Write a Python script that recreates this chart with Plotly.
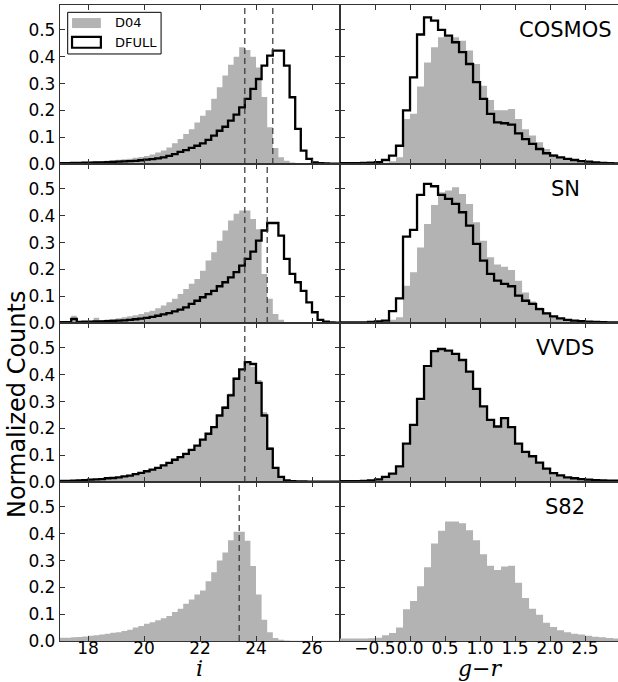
import plotly.graph_objects as go
from plotly.subplots import make_subplots

# ---------------- data ----------------
fields = ["COSMOS", "SN", "VVDS", "S82"]

i_edge_start = 17.0
i_bin_width = 0.2
gr_edge_start = -1.0
gr_bin_width = 0.1

# i-band histograms (50 bins, 17.0 -> 27.0)
cosmos_i_d04 = [0.004, 0.005, 0.006, 0.007, 0.008, 0.009, 0.010, 0.011, 0.012, 0.014,
                0.016, 0.018, 0.020, 0.023, 0.026, 0.030, 0.035, 0.043, 0.050, 0.062,
                0.077, 0.093, 0.112, 0.130, 0.155, 0.180, 0.200, 0.243, 0.286, 0.330,
                0.370, 0.400, 0.435, 0.425, 0.400, 0.360, 0.250, 0.137, 0.060, 0.025,
                0.012, 0.006, 0.004, 0.003, 0.002, 0.001, 0.001, 0.001, 0.001, 0.001]
cosmos_i_full = [0.003, 0.003, 0.004, 0.004, 0.005, 0.005, 0.006, 0.006, 0.007, 0.008,
                 0.009, 0.010, 0.011, 0.012, 0.014, 0.016, 0.018, 0.021, 0.025, 0.030,
                 0.037, 0.045, 0.052, 0.060, 0.068, 0.077, 0.090, 0.106, 0.124, 0.139,
                 0.162, 0.184, 0.211, 0.243, 0.280, 0.317, 0.367, 0.404, 0.423, 0.423,
                 0.367, 0.249, 0.131, 0.050, 0.019, 0.006, 0.003, 0.002, 0.001, 0.001]
sn_i_d04 = [0.006, 0.005, 0.027, 0.006, 0.007, 0.008, 0.020, 0.011, 0.013, 0.015,
            0.018, 0.021, 0.025, 0.029, 0.034, 0.040, 0.046, 0.055, 0.065, 0.077,
            0.090, 0.108, 0.127, 0.146, 0.164, 0.195, 0.233, 0.264, 0.307, 0.345,
            0.382, 0.407, 0.420, 0.420, 0.388, 0.350, 0.183, 0.090, 0.034, 0.012,
            0.004, 0.002, 0.001, 0.001, 0.001, 0.001, 0.001, 0.001, 0.001, 0.001]
sn_i_full = [0.003, 0.003, 0.015, 0.004, 0.005, 0.005, 0.006, 0.006, 0.007, 0.008,
             0.009, 0.010, 0.012, 0.014, 0.016, 0.019, 0.023, 0.027, 0.032, 0.037,
             0.043, 0.050, 0.058, 0.071, 0.083, 0.096, 0.108, 0.120, 0.137, 0.152,
             0.170, 0.190, 0.214, 0.239, 0.266, 0.307, 0.345, 0.373, 0.373, 0.326,
             0.239, 0.183, 0.152, 0.120, 0.077, 0.040, 0.012, 0.005, 0.002, 0.001]
vvds_i_d04 = [0.004, 0.004, 0.005, 0.006, 0.007, 0.009, 0.010, 0.011, 0.014, 0.015,
              0.017, 0.021, 0.024, 0.029, 0.034, 0.040, 0.046, 0.053, 0.062, 0.071,
              0.083, 0.093, 0.105, 0.120, 0.136, 0.158, 0.180, 0.205, 0.250, 0.283,
              0.330, 0.390, 0.420, 0.445, 0.430, 0.380, 0.260, 0.130, 0.055, 0.019,
              0.006, 0.003, 0.002, 0.001, 0.001, 0.001, 0.001, 0.001, 0.001, 0.001]
vvds_i_full = [0.004, 0.004, 0.005, 0.006, 0.007, 0.009, 0.010, 0.011, 0.014, 0.015,
               0.017, 0.021, 0.024, 0.029, 0.034, 0.040, 0.046, 0.053, 0.062, 0.071,
               0.083, 0.093, 0.105, 0.120, 0.136, 0.158, 0.180, 0.205, 0.248, 0.277,
               0.323, 0.385, 0.420, 0.447, 0.440, 0.370, 0.248, 0.124, 0.053, 0.019,
               0.006, 0.003, 0.002, 0.002, 0.001, 0.001, 0.001, 0.001, 0.001, 0.001]
s82_i_d04 = [0.012, 0.012, 0.014, 0.015, 0.017, 0.020, 0.021, 0.024, 0.027, 0.031,
             0.033, 0.037, 0.042, 0.050, 0.056, 0.064, 0.070, 0.077, 0.085, 0.093,
             0.108, 0.120, 0.139, 0.155, 0.173, 0.188, 0.223, 0.256, 0.300, 0.330,
             0.376, 0.407, 0.407, 0.374, 0.280, 0.173, 0.079, 0.033, 0.011, 0.005,
             0.002, 0.001, 0.001, 0.001, 0.001, 0.001, 0.001, 0.001, 0.001, 0.001]

# g-r histograms (40 bins, -1.0 -> 3.0)
cosmos_gr_d04 = [0.002, 0.002, 0.002, 0.003, 0.003, 0.004, 0.005, 0.010, 0.025, 0.168,
                 0.187, 0.289, 0.379, 0.435, 0.473, 0.475, 0.473, 0.460, 0.423, 0.373,
                 0.292, 0.239, 0.200, 0.200, 0.205, 0.168, 0.130, 0.106, 0.081, 0.056,
                 0.037, 0.027, 0.021, 0.016, 0.012, 0.009, 0.006, 0.005, 0.004, 0.003]
cosmos_gr_full = [0.003, 0.003, 0.003, 0.004, 0.005, 0.007, 0.015, 0.031, 0.068, 0.200,
                  0.323, 0.483, 0.547, 0.535, 0.500, 0.479, 0.454, 0.417, 0.373, 0.305,
                  0.243, 0.187, 0.155, 0.152, 0.147, 0.114, 0.093, 0.075, 0.056, 0.040,
                  0.031, 0.025, 0.019, 0.015, 0.011, 0.009, 0.006, 0.004, 0.003, 0.002]
sn_gr_d04 = [0.001, 0.001, 0.002, 0.002, 0.003, 0.004, 0.005, 0.012, 0.021, 0.139,
             0.189, 0.282, 0.369, 0.440, 0.488, 0.494, 0.506, 0.481, 0.444, 0.376,
             0.307, 0.245, 0.218, 0.210, 0.198, 0.158, 0.114, 0.080, 0.058, 0.040,
             0.027, 0.019, 0.014, 0.010, 0.008, 0.006, 0.005, 0.004, 0.003, 0.003]
sn_gr_full = [0.002, 0.002, 0.002, 0.002, 0.004, 0.006, 0.009, 0.044, 0.092, 0.322,
              0.347, 0.478, 0.519, 0.510, 0.478, 0.463, 0.444, 0.413, 0.363, 0.295,
              0.233, 0.183, 0.158, 0.146, 0.137, 0.102, 0.083, 0.071, 0.052, 0.036,
              0.025, 0.017, 0.012, 0.009, 0.007, 0.005, 0.004, 0.003, 0.002, 0.002]
vvds_gr_d04 = [0.003, 0.003, 0.003, 0.004, 0.006, 0.010, 0.018, 0.030, 0.055, 0.140,
               0.210, 0.305, 0.425, 0.485, 0.495, 0.487, 0.476, 0.452, 0.410, 0.345,
               0.280, 0.232, 0.208, 0.236, 0.203, 0.143, 0.112, 0.096, 0.072, 0.050,
               0.033, 0.025, 0.017, 0.014, 0.011, 0.009, 0.007, 0.006, 0.005, 0.005]
vvds_gr_full = [0.003, 0.003, 0.003, 0.004, 0.006, 0.010, 0.019, 0.031, 0.058, 0.143,
                0.213, 0.310, 0.432, 0.488, 0.496, 0.490, 0.478, 0.455, 0.412, 0.347,
                0.282, 0.232, 0.207, 0.238, 0.205, 0.143, 0.112, 0.096, 0.072, 0.050,
                0.033, 0.025, 0.017, 0.014, 0.011, 0.009, 0.007, 0.006, 0.005, 0.005]
s82_gr_d04 = [0.009, 0.009, 0.009, 0.009, 0.010, 0.012, 0.021, 0.030, 0.050, 0.118,
              0.149, 0.204, 0.275, 0.364, 0.411, 0.446, 0.446, 0.439, 0.413, 0.376,
              0.324, 0.281, 0.265, 0.278, 0.281, 0.217, 0.160, 0.120, 0.098, 0.068,
              0.052, 0.040, 0.033, 0.027, 0.024, 0.020, 0.016, 0.014, 0.011, 0.009]

i_d04 = [cosmos_i_d04, sn_i_d04, vvds_i_d04, s82_i_d04]
i_full = [cosmos_i_full, sn_i_full, vvds_i_full, None]
gr_d04 = [cosmos_gr_d04, sn_gr_d04, vvds_gr_d04, s82_gr_d04]
gr_full = [cosmos_gr_full, sn_gr_full, vvds_gr_full, None]

# dashed reference magnitudes per field
cut_lines = [[23.6, 24.6], [23.6, 24.4], [23.6], [23.4]]

i_ticks = [18, 20, 22, 24, 26]
gr_ticks = [-0.5, 0.0, 0.5, 1.0, 1.5, 2.0, 2.5]
y_ticks = [0.0, 0.1, 0.2, 0.3, 0.4, 0.5]

# ---------------- figure ----------------
GRAY = "#b3b3b3"
FRAME = "#333333"

fig = make_subplots(rows=4, cols=2, horizontal_spacing=0, vertical_spacing=0,
                    column_widths=[280, 278])


def edges(start, width, n):
    return [start + width * k for k in range(n + 1)]


def fill_trace(start, width, vals):
    e = edges(start, width, len(vals))
    return go.Scatter(x=e, y=list(vals) + [vals[-1]], mode="lines",
                      line=dict(shape="hv", width=0, color=GRAY),
                      fill="tozeroy", fillcolor=GRAY, showlegend=False,
                      hoverinfo="skip")


def step_trace(start, width, vals):
    e = edges(start, width, len(vals))
    xs = [e[0]] + e + [e[-1]]
    ys = [0] + list(vals) + [vals[-1], 0]
    return go.Scatter(x=xs, y=ys, mode="lines",
                      line=dict(shape="hv", width=2.3, color="black"),
                      showlegend=False, hoverinfo="skip")


for r in range(4):
    row = r + 1
    fig.add_trace(fill_trace(i_edge_start, i_bin_width, i_d04[r]), row=row, col=1)
    if i_full[r] is not None:
        fig.add_trace(step_trace(i_edge_start, i_bin_width, i_full[r]), row=row, col=1)
    fig.add_trace(fill_trace(gr_edge_start, gr_bin_width, gr_d04[r]), row=row, col=2)
    if gr_full[r] is not None:
        fig.add_trace(step_trace(gr_edge_start, gr_bin_width, gr_full[r]), row=row, col=2)
    for v in cut_lines[r]:
        fig.add_vline(x=v, line=dict(color=FRAME, width=1.2, dash="6px,4px"),
                      row=row, col=1)

axis_common = dict(showline=True, linecolor=FRAME, linewidth=1.3,
                   ticks="inside", ticklen=5, tickwidth=1, tickcolor=FRAME,
                   showgrid=False, zeroline=False, automargin=False,
                   tickfont=dict(family="DejaVu Sans", size=17, color="black"))

for r in range(4):
    row = r + 1
    bottom = row == 4
    fig.update_xaxes(range=[17, 27], tickvals=i_ticks, showticklabels=bottom,
                     mirror="ticks", ticklabelstandoff=-9, tickangle=0,
                     row=row, col=1, **axis_common)
    fig.update_xaxes(range=[-1.0, 2.97], tickvals=gr_ticks, tickformat=".1f",
                     showticklabels=bottom, mirror="ticks", ticklabelstandoff=-9,
                     tickangle=0, row=row, col=2, **axis_common)
    fig.update_yaxes(range=[0, 0.593], tickvals=y_ticks, tickformat=".1f",
                     showticklabels=True, mirror="ticks",
                     row=row, col=1, **axis_common)
    fig.update_yaxes(range=[0, 0.593], tickvals=y_ticks, showticklabels=False,
                     mirror=False, row=row, col=2, **axis_common)

# panel labels
for r, name in enumerate(fields):
    idx = 2 * r + 2
    fig.add_annotation(text=name, xref=f"x{idx} domain", yref=f"y{idx} domain",
                       x=0.81, y=0.843, xanchor="center", yanchor="middle",
                       showarrow=False,
                       font=dict(family="DejaVu Sans", size=21, color="black"))

# legend (drawn in top-left panel)
fig.add_shape(type="rect", xref="x domain", yref="y domain",
              x0=0.0275, x1=0.361, y0=0.692, y1=0.954,
              line=dict(color="black", width=1), fillcolor="white", layer="above")
fig.add_shape(type="rect", xref="x domain", yref="y domain",
              x0=0.043, x1=0.146, y0=0.855, y1=0.918,
              line=dict(width=0), fillcolor=GRAY, layer="above")
fig.add_shape(type="rect", xref="x domain", yref="y domain",
              x0=0.043, x1=0.146, y0=0.731, y1=0.800,
              line=dict(color="black", width=2.2), fillcolor="white", layer="above")
for txt, yy in [("D04", 0.887), ("DFULL", 0.767)]:
    fig.add_annotation(text=txt, xref="x domain", yref="y domain", x=0.189, y=yy,
                       xanchor="left", yanchor="middle", showarrow=False,
                       font=dict(family="DejaVu Sans", size=13, color="black"))

# axis titles
fig.add_annotation(text="Normalized Counts", xref="paper", yref="paper",
                   x=-0.077, y=0.3726, textangle=-90, xanchor="center",
                   yanchor="middle", showarrow=False,
                   font=dict(family="DejaVu Sans", size=24, color="black"))
fig.add_annotation(text="<i>i</i>", xref="paper", yref="paper",
                   x=(199 - 60) / 558, y=-0.0432, xanchor="center", yanchor="middle",
                   showarrow=False,
                   font=dict(family="DejaVu Serif", size=22, color="black"))
fig.add_annotation(text="<i>g</i>\u2212<i>r</i>", xref="paper", yref="paper",
                   x=(480 - 60) / 558, y=-0.0432, xanchor="center", yanchor="middle",
                   showarrow=False,
                   font=dict(family="DejaVu Serif", size=22, color="black"))

fig.update_layout(width=618, height=682, margin=dict(l=60, r=0, t=5, b=41),
                  paper_bgcolor="white", plot_bgcolor="white", showlegend=False)

fig.write_html("out.html")
